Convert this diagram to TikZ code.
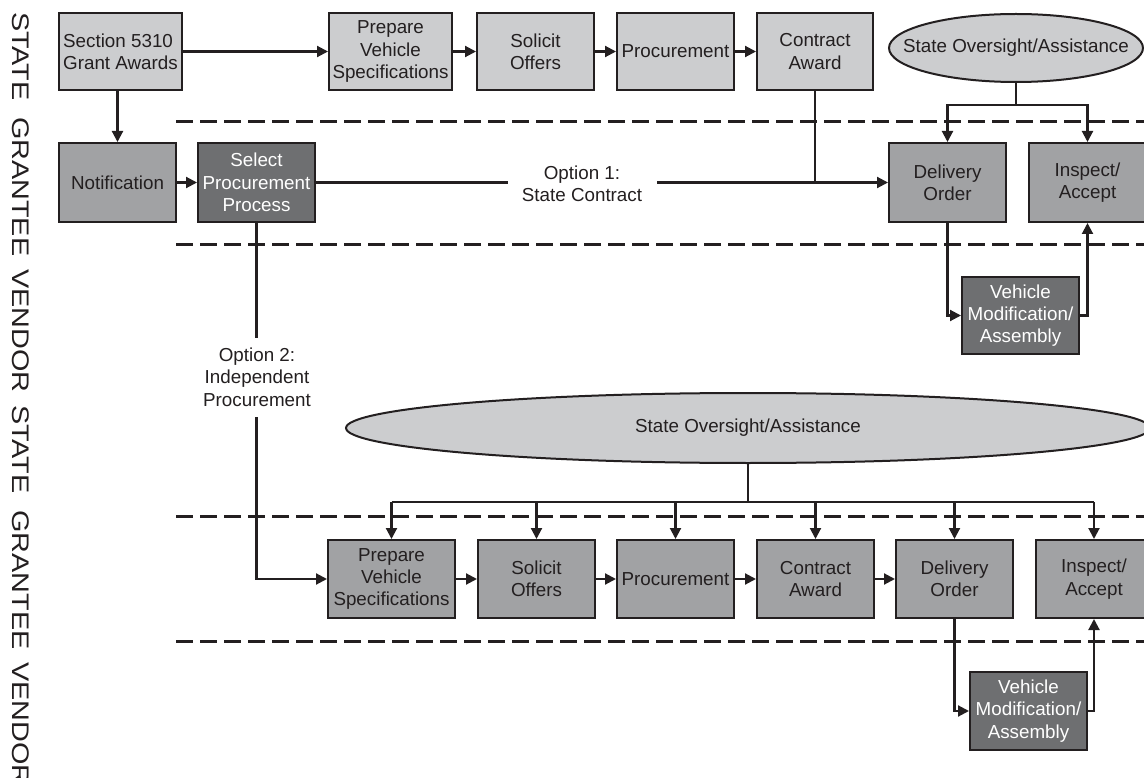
\documentclass[tikz,border=0pt]{standalone}
\usepackage{fontspec}
\setmainfont{Liberation Sans}
\usetikzlibrary{arrows.meta,shapes.geometric}

\definecolor{lightfill}{RGB}{204,205,207}
\definecolor{midfill}{RGB}{161,162,164}
\definecolor{darkfill}{RGB}{110,111,113}
\definecolor{ink}{RGB}{35,31,32}

\newcommand\dgfont{\fontsize{18.8}{22.3}\selectfont}

\begin{document}
\begin{tikzpicture}[x=1pt,y=1pt,
  box/.style={draw=ink, line width=2pt, minimum width=117pt, minimum height=78pt,
              inner sep=2pt, align=center, font=\dgfont, text=ink},
  lightbox/.style={box, fill=lightfill},
  midbox/.style={box, fill=midfill},
  darkbox/.style={box, fill=darkfill, text=white},
  oval/.style={ellipse, draw=ink, line width=2pt, fill=lightfill, inner sep=0pt,
               font=\dgfont, text=ink},
  link/.style={draw=ink, line width=2.1pt},
  flow/.style={link, -{Triangle[length=11pt,width=11pt]}},
  lane/.style={draw=ink, line width=3pt, dash pattern=on 17pt off 7pt},
  side/.style={rotate=-90, anchor=base west, inner sep=0pt, text=ink,
               font=\fontsize{24}{24}\selectfont},
  optlabel/.style={fill=white, align=center, font=\dgfont, text=ink, inner sep=0pt}
]
\clip (0,0) rectangle (1144,-778);

% swim-lane separators
\draw[lane] (176,-122) -- (1144,-122);
\draw[lane] (176,-245) -- (1144,-245);
\draw[lane] (176,-516) -- (1144,-516);
\draw[lane] (176,-641) -- (1144,-641);

% lane titles down the left edge
\node[side] (t1) at (12.5,-12)   {\scalebox{1.2}[1]{STATE}};
\node[side] (t2) at (12.5,-117)  {\scalebox{1.2}[1]{GRANTEE}};
\node[side] (t3) at (12.5,-269)  {\scalebox{1.2}[1]{VENDOR}};
\node[side] (t4) at (12.5,-405)  {\scalebox{1.2}[1]{STATE}};
\node[side] (t5) at (12.5,-510)  {\scalebox{1.2}[1]{GRANTEE}};
\node[side] (t6) at (12.5,-662)  {\scalebox{1.2}[1]{VENDOR}};

% ---- option 1: state contract ----
\node[lightbox, minimum width=123pt, minimum height=77pt, align=left] (sec) at (120.5,-51.5)
  {Section 5310\\Grant Awards};
\node[lightbox, minimum width=123pt, minimum height=77pt] (prep1) at (390.5,-51.5)
  {Prepare\\Vehicle\\Specifications};
\node[lightbox, minimum height=77pt] (sol1) at (535.5,-51.5) {Solicit\\Offers};
\node[lightbox, minimum height=77pt] (proc1) at (675.5,-51.5) {Procurement};
\node[lightbox, minimum height=77pt, minimum width=116pt] (con1) at (815,-51.5) {Contract\\Award};
\node[oval, minimum width=254pt, minimum height=68pt] (ell1) at (1016,-48)
  {\makebox[0pt]{State Oversight/Assistance}};

\node[midbox, minimum height=79pt] (notif) at (117.5,-182.5) {Notification};
\node[darkbox, minimum height=79pt] (select) at (256.5,-182.5) {Select\\Procurement\\Process};
\node[midbox, minimum height=79pt] (del1) at (947.5,-182.5) {Delivery\\Order};
\node[midbox, minimum height=79pt, minimum width=118pt] (insp1) at (1087.5,-182.5) {Inspect/\\Accept};
\node[darkbox, minimum height=77pt] (vm1) at (1020.5,-315.5) {Vehicle\\Modification/\\Assembly};

\draw[flow] (sec) -- (prep1);
\draw[flow] (prep1) -- (sol1);
\draw[flow] (sol1) -- (proc1);
\draw[flow] (proc1) -- (con1);
\draw[flow] (notif.north |- sec.south) -- (notif.north);
\draw[flow] (notif) -- (select);
\draw[flow] (select.east) -- (del1.west);
\draw[link] (con1.south) -- (con1.south |- del1.west);
\draw[link] (ell1.south) -- ++(0,-22) coordinate (b1);
\draw[flow] (b1) -| (del1.north);
\draw[flow] (b1) -| (insp1.north);
\draw[flow] (del1.south) |- (vm1.west);
\draw[flow] (vm1.east) -| (insp1.south);

% ---- option 2: independent procurement ----
\node[oval, minimum width=804pt, minimum height=70pt] (ell2) at (748,-428)
  {\makebox[0pt]{State Oversight/Assistance}};
\node[midbox, minimum width=127pt] (prep2) at (391.5,-579) {Prepare\\Vehicle\\Specifications};
\node[midbox] (sol2) at (536.5,-579) {Solicit\\Offers};
\node[midbox] (proc2) at (675.5,-579) {Procurement};
\node[midbox] (con2) at (815.5,-579) {Contract\\Award};
\node[midbox] (del2) at (954.5,-579) {Delivery\\Order};
\node[midbox] (insp2) at (1094,-579) {Inspect/\\Accept};
\node[darkbox] (vm2) at (1028.5,-711) {Vehicle\\Modification/\\Assembly};

\draw[flow] (select.south) |- (prep2.west);
\draw[flow] (prep2) -- (sol2);
\draw[flow] (sol2) -- (proc2);
\draw[flow] (proc2) -- (con2);
\draw[flow] (con2) -- (del2);
\draw[link] (ell2.south) -- ++(0,-38) coordinate (b2);
\draw[link] (prep2.north |- b2) -- (insp2.north |- b2);
\foreach \n in {prep2,sol2,proc2,con2,del2,insp2}
  \draw[flow] (\n.north |- b2) -- (\n.north);
\draw[flow] (del2.south) |- (vm2.west);
\draw[flow] (vm2.east) -| (insp2.south);

% option labels sit on their connectors
\node[optlabel, minimum width=149pt, minimum height=30pt] (opt1) at (582,-184)
  {Option 1:\\State Contract};
\node[optlabel, minimum width=130pt, minimum height=79pt] (opt2) at (257,-377)
  {Option 2:\\Independent\\Procurement};
\end{tikzpicture}
\end{document}
